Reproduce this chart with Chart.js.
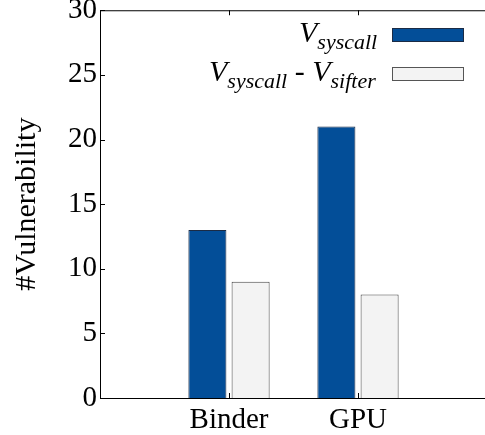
<!DOCTYPE html>
<html>
<head>
<meta charset="utf-8">
<script src="https://cdn.jsdelivr.net/npm/chart.js@4/dist/chart.umd.min.js"></script>
<style>
  html, body { margin: 0; padding: 0; background: #fff; overflow: hidden; }
  #wrap { position: relative; width: 492px; height: 435px; }
  .lg { position: absolute; font-family: 'Liberation Serif', 'Times New Roman', serif; font-style: italic;
        font-size: 30px; line-height: 30px; white-space: nowrap; color: #000; }
  .lg .s { font-size: 22px; vertical-align: -7px; }
  .lg .d { font-style: normal; }
  .box { position: absolute; width: 72px; height: 14px; box-sizing: border-box; }
</style>
</head>
<body>
<div id="wrap">
  <canvas id="chart" width="492" height="435"></canvas>
  <div class="lg" style="left:299px; top:17px;">V<span class="s">syscall</span></div>
  <div class="box" style="left:392px; top:28px; background:#034e98; border:1px solid #1b2b45;"></div>
  <div class="lg" style="left:209px; top:56px;">V<span class="s">syscall</span><span class="d"> - </span>V<span class="s">sifter</span></div>
  <div class="box" style="left:392px; top:67px; background:#f3f3f3; border:1px solid #555;"></div>
</div>
<script>
// categories (blank ends keep the groups at 1/3 and 2/3 of the axis)
const categories = ['', 'Binder', 'GPU', '']
const vSyscall = [null, 13, 21, null]
const vDiff = [null, 9, 8, null]
const yTicks = [0, 5, 10, 15, 20, 25, 30]

const serif = "'Liberation Serif', 'Times New Roman', serif"

// frame top line + inward tick marks
const frame = {
  id: 'frame',
  afterDatasetsDraw(chart) {
    const ctx = chart.ctx
    const a = chart.chartArea
    const x = chart.scales.x, y = chart.scales.y
    ctx.save()
    ctx.strokeStyle = '#000'
    ctx.lineWidth = 1
    ctx.beginPath()
    ctx.moveTo(a.left, a.top + 0.5)
    ctx.lineTo(a.right, a.top + 0.5)
    y.ticks.forEach((t, i) => {
      const py = Math.round(y.getPixelForTick(i)) + 0.5
      ctx.moveTo(a.left, py)
      ctx.lineTo(a.left + 5, py)
    })
    x.ticks.forEach((t, i) => {
      if (!categories[i]) return
      const px = Math.round(x.getPixelForTick(i)) + 0.5
      ctx.moveTo(px, a.bottom)
      ctx.lineTo(px, a.bottom - 5)
      ctx.moveTo(px, a.top)
      ctx.lineTo(px, a.top + 5)
    })
    ctx.stroke()
    ctx.restore()
  }
}

const ctx = document.getElementById('chart').getContext('2d')
new Chart(ctx, {
  type: 'bar',
  data: {
    labels: categories,
    datasets: [
      {
        label: 'V syscall',
        data: vSyscall,
        backgroundColor: '#034e98',
        borderColor: '#1b2b45',
        borderWidth: 1
      },
      {
        label: 'V syscall - V sifter',
        data: vDiff,
        backgroundColor: '#f3f3f3',
        borderColor: '#444',
        borderWidth: 1
      }
    ]
  },
  options: {
    responsive: false,
    animation: false,
    categoryPercentage: 0.67,
    barPercentage: 0.88,
    layout: { padding: { top: 0, right: 0, left: 0, bottom: 0 } },
    plugins: { legend: { display: false }, tooltip: { enabled: false } },
    scales: {
      x: {
        offset: false,
        grid: { display: false, drawTicks: false, tickLength: 0 },
        border: { display: true, color: '#000', width: 1 },
        ticks: { color: '#000', font: { family: serif, size: 29 }, padding: 5, maxRotation: 0, autoSkip: false },
        afterFit(scale) { scale.height = 37 }
      },
      y: {
        min: 0,
        max: 30,
        grid: { display: false, drawTicks: false, tickLength: 0 },
        border: { display: true, color: '#000', width: 1 },
        afterBuildTicks(scale) { scale.ticks = yTicks.map(v => ({ value: v })) },
        ticks: { color: '#000', font: { family: serif, size: 29, lineHeight: 0.5 }, padding: 3 },
        title: { display: true, text: '#Vulnerability', color: '#000', font: { family: serif, size: 30 }, padding: { top: 9, bottom: 0 } },
        afterFit(scale) { scale.width = 100 }
      }
    }
  },
  plugins: [frame]
})
</script>
</body>
</html>
